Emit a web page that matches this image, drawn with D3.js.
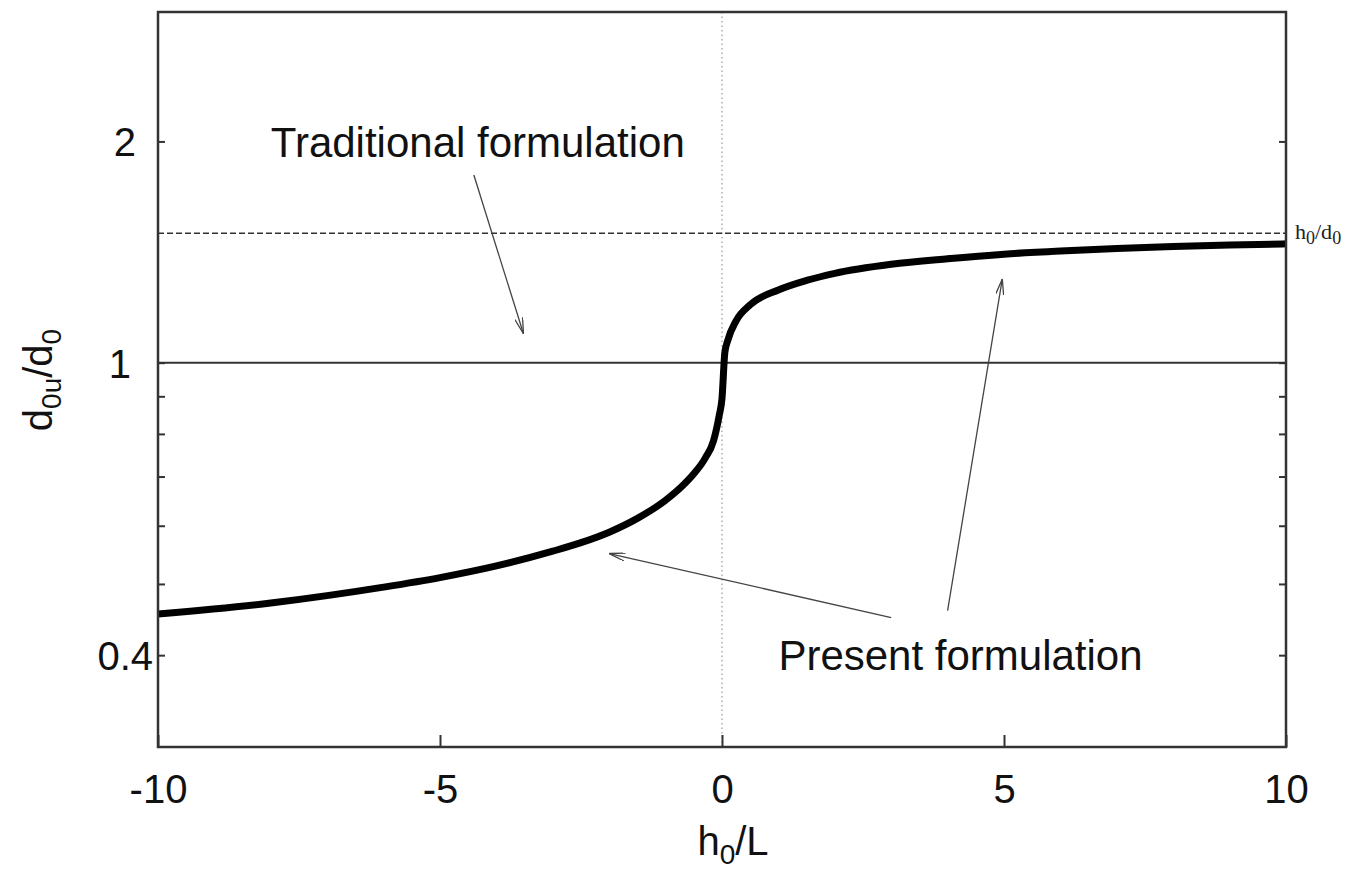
<!DOCTYPE html>
<html>
<head>
<meta charset="utf-8">
<script src="https://cdn.jsdelivr.net/npm/d3@7"></script>
<style>
  body { margin: 0; background: #fff; }
  svg { font-family: "Liberation Sans", Arial, sans-serif; }
</style>
</head>
<body>
<svg id="chart"></svg>
<script>
// curve: d0u/d0 against h0/L
const hL = [-10, -8, -6, -5, -4, -3, -2.5, -2, -1.5, -1, -0.7, -0.5, -0.3, -0.15, -0.05, 0, 0.05, 0.1, 0.25, 0.5, 1, 1.5, 2, 3, 4, 5, 6, 7, 8, 9, 10];
const ratio = [0.455, 0.471, 0.495, 0.510, 0.529, 0.554, 0.569, 0.588, 0.614, 0.650, 0.680, 0.706, 0.741, 0.783, 0.847, 0.894, 1.032, 1.071, 1.140, 1.199, 1.256, 1.294, 1.323, 1.361, 1.385, 1.405, 1.419, 1.430, 1.439, 1.446, 1.451];

const traditional = 1;
const h0d0 = 1.5;

const xTicks = [-10, -5, 0, 5, 10];
const yTicks = [0.4, 0.5, 0.6, 0.7, 0.8, 0.9, 1, 2];
const yLabels = [0.4, 1, 2];

// annotations in data units: [x1, y1, x2, y2]
const arrows = [
  [-4.4, 1.8, -3.52, 1.095],
  [3.0, 0.45, -2.0, 0.55],
  [4.0, 0.46, 4.97, 1.3]
];
const labels = [
  { text: "Traditional formulation", x: -8, y: 2 },
  { text: "Present formulation", x: 1, y: 0.4 }
];

const margin = { top: 12, right: 71, bottom: 126, left: 158 };
const width = 1357 - margin.left - margin.right;
const height = 873 - margin.top - margin.bottom;

const svgRoot = d3.select("#chart").attr("width", 1357).attr("height", 873);

svgRoot.append("defs").append("marker")
  .attr("id", "head")
  .attr("viewBox", "0 0 16 8")
  .attr("refX", 16).attr("refY", 4)
  .attr("markerWidth", 16).attr("markerHeight", 8)
  .attr("markerUnits", "userSpaceOnUse")
  .attr("orient", "auto")
  .append("path")
  .attr("d", "M0,0 L16,4 L0,8")
  .attr("fill", "none")
  .attr("stroke", "#444")
  .attr("stroke-width", 1.3);

const svg = svgRoot.append("g")
  .attr("transform", `translate(${margin.left}, ${margin.top})`);

const x = d3.scaleLinear().domain([-10, 10]).range([0, width]);
const y = d3.scaleLog().domain([0.3, 3]).range([height, 0]);

// dotted zero line
svg.append("line")
  .attr("x1", x(0)).attr("x2", x(0))
  .attr("y1", 0).attr("y2", height)
  .attr("stroke", "#999")
  .attr("stroke-width", 1.2)
  .attr("stroke-dasharray", "1.5,3");

// traditional formulation line
svg.append("line")
  .attr("x1", 0).attr("x2", width)
  .attr("y1", y(traditional)).attr("y2", y(traditional))
  .attr("stroke", "#333").attr("stroke-width", 2);

// h0/d0 asymptote
svg.append("line")
  .attr("x1", 0).attr("x2", width)
  .attr("y1", y(h0d0)).attr("y2", y(h0d0))
  .attr("stroke", "#333").attr("stroke-width", 1.7)
  .attr("stroke-dasharray", "6,3");

// present formulation curve
const pts = hL.map((d, i) => [d, ratio[i]]);
svg.append("path")
  .datum(pts)
  .attr("fill", "none")
  .attr("stroke", "#000")
  .attr("stroke-width", 7)
  .attr("stroke-linejoin", "round")
  .attr("d", d3.line().x(d => x(d[0])).y(d => y(d[1])).curve(d3.curveMonotoneX));

// axes
svg.append("g")
  .attr("transform", `translate(0, ${height})`)
  .call(d3.axisBottom(x).tickValues(xTicks).tickSizeInner(-12).tickSizeOuter(0).tickPadding(28)
    .tickFormat(d => String(d)));

const yAxis = svg.append("g")
  .call(d3.axisLeft(y).tickValues(yTicks).tickSizeInner(-7).tickSizeOuter(0).tickPadding(6)
    .tickFormat(d => yLabels.includes(d) ? String(d) : ""));

svg.append("g")
  .attr("transform", `translate(${width}, 0)`)
  .call(d3.axisRight(y).tickValues(yTicks).tickSizeInner(-7).tickSizeOuter(0).tickFormat(""));

svg.selectAll(".domain").remove();
svg.selectAll(".tick line").attr("stroke", "#333").attr("stroke-width", 2);
svg.selectAll(".tick text").attr("font-size", 40).attr("fill", "#111")
  .attr("font-family", "'Liberation Sans', Arial, sans-serif");

yAxis.selectAll(".tick text")
  .attr("dy", "0.36em")
  .attr("x", d => d === 0.4 ? -5 : d === 1 ? -27 : -22);

// frame
svg.append("rect")
  .attr("width", width).attr("height", height)
  .attr("fill", "none")
  .attr("stroke", "#333")
  .attr("stroke-width", 2.5);

// annotation arrows and labels
svg.selectAll("line.arrow")
  .data(arrows)
  .enter()
  .append("line")
  .attr("class", "arrow")
  .attr("x1", d => x(d[0])).attr("y1", d => y(d[1]))
  .attr("x2", d => x(d[2])).attr("y2", d => y(d[3]))
  .attr("stroke", "#444").attr("stroke-width", 1.3)
  .attr("marker-end", "url(#head)");

svg.selectAll("text.note")
  .data(labels)
  .enter()
  .append("text")
  .attr("class", "note")
  .attr("x", d => x(d.x))
  .attr("y", d => y(d.y))
  .attr("dy", "0.36em")
  .attr("font-size", 42)
  .attr("fill", "#111")
  .text(d => d.text);

// h0/d0 label (serif)
const hd = svg.append("text")
  .attr("x", width + 9)
  .attr("y", y(h0d0) + 6)
  .attr("font-family", "'Liberation Serif', 'Times New Roman', serif")
  .attr("font-size", 22)
  .attr("fill", "#222");
hd.append("tspan").text("h");
hd.append("tspan").attr("font-size", 18).attr("dy", 5).text("0");
hd.append("tspan").attr("dy", -5).text("/d");
hd.append("tspan").attr("font-size", 18).attr("dy", 5).text("0");

// axis titles
const xt = svgRoot.append("text")
  .attr("x", 733).attr("y", 855)
  .attr("text-anchor", "middle")
  .attr("font-size", 40).attr("fill", "#111");
xt.append("tspan").text("h");
xt.append("tspan").attr("font-size", 28).attr("dy", 9).text("0");
xt.append("tspan").attr("dy", -9).text("/L");

const yt = svgRoot.append("text")
  .attr("transform", "translate(52, 380) rotate(-90)")
  .attr("text-anchor", "middle")
  .attr("font-size", 40).attr("fill", "#111");
yt.append("tspan").text("d");
yt.append("tspan").attr("font-size", 28).attr("dy", 9).text("0u");
yt.append("tspan").attr("dy", -9).text("/d");
yt.append("tspan").attr("font-size", 28).attr("dy", 9).text("0");
</script>
</body>
</html>
